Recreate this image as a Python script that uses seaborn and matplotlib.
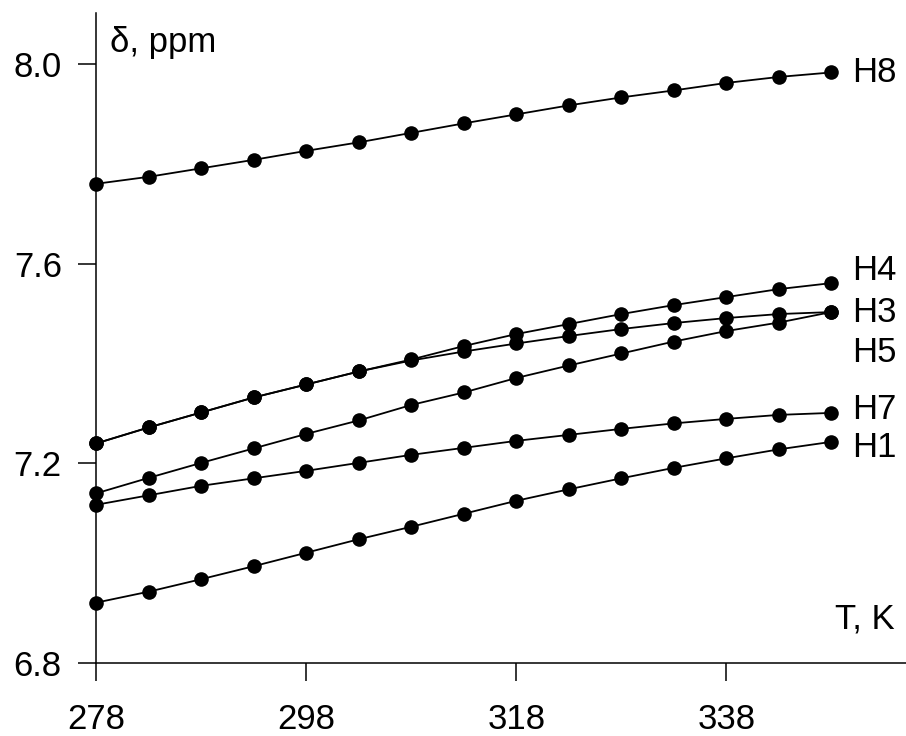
import numpy as np
import pandas as pd
import matplotlib
matplotlib.use("Agg")
import matplotlib.pyplot as plt
import seaborn as sns

# temperatures, K
temps = [278, 283, 288, 293, 298, 303, 308, 313, 318, 323, 328, 333, 338, 343, 348]

# chemical shifts, ppm
h8 = [7.760, 7.774, 7.791, 7.808, 7.826, 7.843, 7.862, 7.881, 7.899, 7.917,
      7.933, 7.947, 7.962, 7.974, 7.983]
h4 = [7.240, 7.272, 7.302, 7.332, 7.358, 7.384, 7.408, 7.435, 7.459, 7.479,
      7.499, 7.517, 7.533, 7.549, 7.561]
h3 = [7.240, 7.272, 7.302, 7.332, 7.358, 7.384, 7.406, 7.424, 7.440, 7.455,
      7.469, 7.481, 7.491, 7.499, 7.503]
h5 = [7.140, 7.171, 7.201, 7.230, 7.259, 7.286, 7.317, 7.342, 7.371, 7.396,
      7.420, 7.444, 7.465, 7.482, 7.503]
h7 = [7.117, 7.136, 7.155, 7.170, 7.185, 7.201, 7.217, 7.231, 7.245, 7.257,
      7.269, 7.280, 7.289, 7.297, 7.301]
h1 = [6.921, 6.943, 6.968, 6.994, 7.021, 7.048, 7.073, 7.099, 7.125, 7.148,
      7.170, 7.191, 7.210, 7.228, 7.243]

series = {"H8": h8, "H4": h4, "H3": h3, "H5": h5, "H7": h7, "H1": h1}

# label positions on the right side
label_names = ["H8", "H4", "H3", "H5", "H7", "H1"]
label_y = [7.982, 7.587, 7.503, 7.421, 7.307, 7.231]

sns.set_style("ticks")
plt.rcParams["font.family"] = ["Liberation Sans", "DejaVu Sans"]
plt.rcParams["text.color"] = "black"
plt.rcParams["xtick.color"] = "black"
plt.rcParams["ytick.color"] = "black"

fig = plt.figure(figsize=(9.06, 7.36), dpi=100)
ax = fig.add_axes([0.1065, 0.0992, 0.8935, 0.8831])

for name, vals in series.items():
    sns.lineplot(x=temps, y=vals, ax=ax, color="black", linewidth=1.3,
                 marker="o", markersize=10.5, markeredgewidth=0,
                 markeredgecolor="black", markerfacecolor="black",
                 clip_on=False)

for name, yv in zip(label_names, label_y):
    ax.text(350.0, yv, name, fontsize=25, va="center", ha="left")

ax.set_xlim(278, 355.1)
ax.set_ylim(6.8, 8.102)
ax.set_xticks([278, 298, 318, 338])
ax.set_yticks([6.8, 7.2, 7.6, 8.0])
ax.set_yticklabels(["6.8", "7.2", "7.6", "8.0"])

for side in ["top", "right"]:
    ax.spines[side].set_visible(False)
for side in ["left", "bottom"]:
    ax.spines[side].set_linewidth(1.1)
    ax.spines[side].set_color("black")

ax.tick_params(axis="both", direction="out", length=13, width=1.1,
               color="black", labelcolor="black", labelsize=25)
ax.tick_params(axis="x", pad=16)
ax.tick_params(axis="y", pad=12)

ax.text(0.0165, 0.98, "\u03b4, ppm", transform=ax.transAxes,
        fontsize=25, va="top", ha="left")
ax.text(0.986, 0.043, "T, K", transform=ax.transAxes,
        fontsize=25, va="bottom", ha="right")

ax.set_xlabel("")
ax.set_ylabel("")

fig.savefig("out.png", dpi=100)
